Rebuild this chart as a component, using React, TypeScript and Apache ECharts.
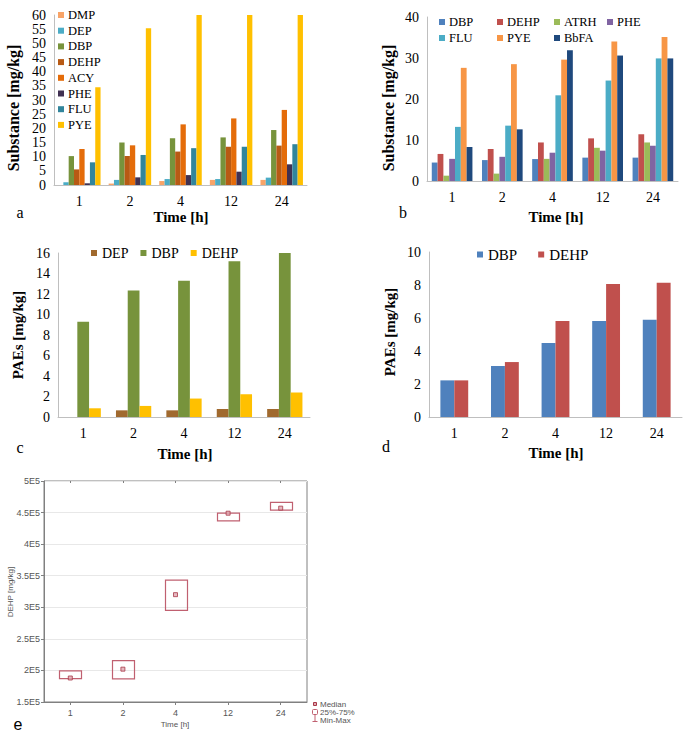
import React, { useEffect, useRef } from 'react';
import * as echarts from 'echarts';

const SERIF = '"Liberation Serif", "Times New Roman", serif';
const SANS = '"Liberation Sans", Arial, sans-serif';

// categories (time in hours)
const categories = ['1', '2', '4', '12', '24'];

// panel a
const aNames = ['DMP', 'DEP', 'DBP', 'DEHP', 'ACY', 'PHE', 'FLU', 'PYE'];
const aColors = ['#F8A468', '#4BACC6', '#77933C', '#B85A14', '#E46C0A', '#403152', '#31859C', '#FFC000'];
const aDMP = [0, 0.5, 1.4, 1.8, 1.8];
const aDEP = [1.0, 1.8, 2.1, 2.1, 2.6];
const aDBP = [10.2, 15.0, 16.5, 16.8, 19.4];
const aDEHP = [5.5, 10.2, 11.8, 13.5, 13.9];
const aACY = [12.7, 14.0, 21.4, 23.5, 26.5];
const aPHE = [0.6, 2.7, 3.5, 4.7, 7.3];
const aFLU = [8.0, 10.6, 13.0, 13.5, 14.4];
const aPYE = [34.5, 55.3, 60, 60, 60];
const aValues = [aDMP, aDEP, aDBP, aDEHP, aACY, aPHE, aFLU, aPYE];

// panel b
const bNames = ['DBP', 'DEHP', 'ATRH', 'PHE', 'FLU', 'PYE', 'BbFA'];
const bColors = ['#4F81BD', '#C0504D', '#9BBB59', '#8064A2', '#4BACC6', '#F79646', '#1F497D'];
const bDBP = [4.5, 5.1, 5.35, 5.7, 5.7];
const bDEHP = [6.6, 7.8, 9.4, 10.4, 11.4];
const bATRH = [1.3, 1.8, 5.4, 8.1, 9.4];
const bPHE = [5.4, 5.9, 6.9, 7.4, 8.6];
const bFLU = [13.2, 13.5, 20.9, 24.5, 29.9];
const bPYE = [27.6, 28.5, 29.6, 34.0, 35.1];
const bBbFA = [8.3, 12.6, 31.9, 30.6, 29.9];
const bValues = [bDBP, bDEHP, bATRH, bPHE, bFLU, bPYE, bBbFA];

// panel c
const cNames = ['DEP', 'DBP', 'DEHP'];
const cColors = ['#A0692E', '#77933C', '#FFC000'];
const cDEP = [0, 0.65, 0.65, 0.78, 0.78];
const cDBP = [9.3, 12.35, 13.3, 15.2, 16.0];
const cDEHP = [0.85, 1.08, 1.8, 2.22, 2.39];
const cValues = [cDEP, cDBP, cDEHP];

// panel d
const dNames = ['DBP', 'DEHP'];
const dColors = ['#4F81BD', '#C0504D'];
const dDBP = [2.22, 3.09, 4.48, 5.82, 5.9];
const dDEHP = [2.22, 3.33, 5.82, 8.06, 8.14];
const dValues = [dDBP, dDEHP];

// panel e (DEHP, box: 25%-75%, median)
const eQ1 = [187000, 186500, 295000, 437000, 454000];
const eQ3 = [199200, 215600, 343000, 449000, 466000];
const eMedian = [188000, 202000, 320000, 449000, 457000];

const grids = [
  { left: 54, top: 15, width: 253, height: 170 },
  { left: 427, top: 17, width: 251, height: 164 },
  { left: 58, top: 253, width: 252, height: 164 },
  { left: 429, top: 252, width: 253, height: 165 },
  { left: 44, top: 481, width: 263, height: 221, show: true, borderColor: '#808080', borderWidth: 1 },
];

const AXIS_GRAY = '#BFBFBF';

function barX(gi: number) {
  return {
    type: 'category',
    gridIndex: gi,
    data: categories,
    axisLine: { show: true, lineStyle: { color: AXIS_GRAY, width: 1 } },
    axisTick: { show: false },
    axisLabel: { fontFamily: SERIF, fontSize: 14, color: '#000', margin: 9, interval: 0 },
    splitLine: { show: false },
  };
}
function barY(gi: number, max: number, interval: number) {
  return {
    type: 'value',
    gridIndex: gi,
    min: 0,
    max,
    interval,
    axisLine: { show: true, lineStyle: { color: AXIS_GRAY, width: 1 } },
    axisTick: { show: false },
    axisLabel: { fontFamily: SERIF, fontSize: 14, color: '#000', margin: 8 },
    splitLine: { show: false },
  };
}

function barSeries(prefix: string, names: string[], colors: string[], values: number[][], gi: number, gap: string) {
  return names.map((n, i) => ({
    type: 'bar',
    name: prefix + n,
    xAxisIndex: gi,
    yAxisIndex: gi,
    data: values[i],
    barGap: '0%',
    barCategoryGap: gap,
    itemStyle: { color: colors[i] },
    silent: true,
  }));
}

const strip = (name: string) => name.slice(2);

function legendBase(extra: any) {
  return {
    padding: 0,
    icon: 'rect',
    itemWidth: 6,
    itemHeight: 6,
    selectedMode: false,
    formatter: strip,
    textStyle: { fontFamily: SERIF, fontSize: 12.5, lineHeight: 14, color: '#000', padding: [0, 0, 0, -1] },
    ...extra,
  };
}

function text(x: number, y: number, t: string, font: string, opts: any = {}) {
  return {
    type: 'text',
    x,
    y,
    rotation: opts.rotation || 0,
    silent: true,
    style: {
      text: t,
      font,
      fill: opts.fill || '#000',
      align: opts.align || 'center',
      verticalAlign: 'middle',
    },
  };
}

export default function App() {
  const ref = useRef<HTMLDivElement>(null);
  useEffect(() => {
    if (!ref.current) return;
    const chart = echarts.init(ref.current, undefined, { renderer: 'svg' });

    const bLegendPos = [
      [439, 15], [497, 15], [554, 15], [607, 15],
      [439, 31], [497, 31], [554, 31],
    ];

    const eBox = {
      type: 'custom',
      xAxisIndex: 4,
      yAxisIndex: 4,
      silent: true,
      data: categories.map((_, i) => [i, eQ1[i], eQ3[i]]),
      encode: { x: 0, y: [1, 2] },
      renderItem: (params: any, api: any) => {
        const x = api.value(0);
        const top = api.coord([x, api.value(2)]);
        const bot = api.coord([x, api.value(1)]);
        const w = 22;
        return {
          type: 'rect',
          shape: { x: Math.round(top[0] - w / 2) + 0.5, y: top[1], width: w, height: bot[1] - top[1] },
          style: { fill: 'none', stroke: '#C06070', lineWidth: 1.2 },
        };
      },
      z: 3,
    };

    const eMed = {
      type: 'scatter',
      xAxisIndex: 4,
      yAxisIndex: 4,
      silent: true,
      symbol: 'rect',
      symbolSize: 4,
      data: categories.map((_, i) => [i, eMedian[i]]),
      itemStyle: { color: '#E0A8B0', borderColor: '#A83848', borderWidth: 1 },
      z: 4,
    };

    const option: any = {
      animation: false,
      backgroundColor: '#fff',
      grid: grids,
      xAxis: [
        barX(0), barX(1), barX(2), barX(3),
        {
          type: 'category',
          gridIndex: 4,
          data: categories,
          axisLine: { show: true, lineStyle: { color: '#808080' } },
          axisTick: { show: true, alignWithLabel: true, length: 3, lineStyle: { color: '#808080' } },
          axisLabel: { fontFamily: SANS, fontSize: 9, color: '#555', margin: 6 },
          splitLine: { show: false },
        },
        {
          type: 'category',
          gridIndex: 4,
          position: 'top',
          data: categories,
          axisLine: { show: false },
          axisTick: { show: true, inside: true, alignWithLabel: true, length: 2, lineStyle: { color: '#808080' } },
          axisLabel: { show: false },
          splitLine: { show: false },
        },
      ],
      yAxis: [
        barY(0, 60, 5), barY(1, 40, 10), barY(2, 16, 2), barY(3, 10, 2),
        {
          type: 'value',
          gridIndex: 4,
          min: 150000,
          max: 500000,
          interval: 50000,
          axisLine: { show: true, lineStyle: { color: '#808080' } },
          axisTick: { show: true, length: 3, lineStyle: { color: '#808080' } },
          axisLabel: {
            fontFamily: SANS, fontSize: 9, color: '#555', margin: 4,
            formatter: (v: number) => `${+(v / 1e5).toFixed(1)}E5`,
          },
          splitLine: { show: true, lineStyle: { color: '#E8E8E8' } },
        },
      ],
      legend: [
        legendBase({
          orient: 'vertical', left: 58, top: 8, itemGap: 1.7,
          data: aNames.map((n) => 'a_' + n),
        }),
        ...bNames.map((n, i) =>
          legendBase({ left: bLegendPos[i][0], top: bLegendPos[i][1], data: ['b_' + n] })
        ),
        legendBase({
          left: 91, top: 246, itemGap: 12,
          textStyle: { fontFamily: SERIF, fontSize: 14, lineHeight: 14, color: '#000' },
          data: cNames.map((n) => 'c_' + n),
        }),
        legendBase({
          left: 477, top: 247, itemGap: 21,
          textStyle: { fontFamily: SERIF, fontSize: 15, lineHeight: 14, color: '#000' },
          data: dNames.map((n) => 'd_' + n),
        }),
      ],
      series: [
        ...barSeries('a_', aNames, aColors, aValues, 0, '16%'),
        ...barSeries('b_', bNames, bColors, bValues, 1, '19%'),
        ...barSeries('c_', cNames, cColors, cValues, 2, '30%'),
        ...barSeries('d_', dNames, dColors, dValues, 3, '45%'),
        eBox,
        eMed,
      ],
      graphic: [
        // panel a
        text(13, 108, 'Substance [mg/kg]', `bold 16px ${SERIF}`, { rotation: Math.PI / 2 }),
        text(181, 217, 'Time [h]', `bold 15px ${SERIF}`),
        text(20, 212, 'a', `16px ${SERIF}`),
        // panel b
        text(388, 108, 'Substance [mg/kg]', `bold 16px ${SERIF}`, { rotation: Math.PI / 2 }),
        text(556, 217, 'Time [h]', `bold 15px ${SERIF}`),
        text(403, 212, 'b', `16px ${SERIF}`),
        // panel c
        text(18, 335, 'PAEs [mg/kg]', `bold 15px ${SERIF}`, { rotation: Math.PI / 2 }),
        text(185, 454, 'Time [h]', `bold 15px ${SERIF}`),
        text(20, 447, 'c', `16px ${SERIF}`),
        // panel d
        text(390, 332, 'PAEs [mg/kg]', `bold 15px ${SERIF}`, { rotation: Math.PI / 2 }),
        text(556, 453, 'Time [h]', `bold 15px ${SERIF}`),
        text(386, 446, 'd', `16px ${SERIF}`),
        // panel e
        text(10, 592, 'DEHP [mg/kg]', `8px ${SANS}`, { rotation: Math.PI / 2, fill: '#555' }),
        text(175, 724, 'Time [h]', `8px ${SANS}`, { fill: '#555' }),
        text(18, 724, 'e', `16px ${SANS}`),
        // panel e legend
        {
          type: 'rect', silent: true,
          shape: { x: 313.5, y: 702.5, width: 3, height: 3 },
          style: { fill: '#E0A8B0', stroke: '#A83848', lineWidth: 1 },
        },
        {
          type: 'rect', silent: true,
          shape: { x: 312.5, y: 709.5, width: 5, height: 5, r: 1 },
          style: { fill: 'none', stroke: '#C06070', lineWidth: 1 },
        },
        {
          type: 'line', silent: true,
          shape: { x1: 315, y1: 714.5, x2: 315, y2: 721.5 },
          style: { stroke: '#C06070', lineWidth: 1 },
        },
        {
          type: 'line', silent: true,
          shape: { x1: 312.5, y1: 721.5, x2: 317.5, y2: 721.5 },
          style: { stroke: '#C06070', lineWidth: 1 },
        },
        text(320, 704, 'Median', `8px ${SANS}`, { align: 'left', fill: '#555' }),
        text(320, 712, '25%-75%', `8px ${SANS}`, { align: 'left', fill: '#555' }),
        text(320, 720, 'Min-Max', `8px ${SANS}`, { align: 'left', fill: '#555' }),
      ],
    };

    chart.setOption(option);
    return () => chart.dispose();
  }, []);

  return (
    <div
      ref={ref}
      style={{ position: 'absolute', left: 0, top: 0, width: 685, height: 738, background: '#fff' }}
    />
  );
}
